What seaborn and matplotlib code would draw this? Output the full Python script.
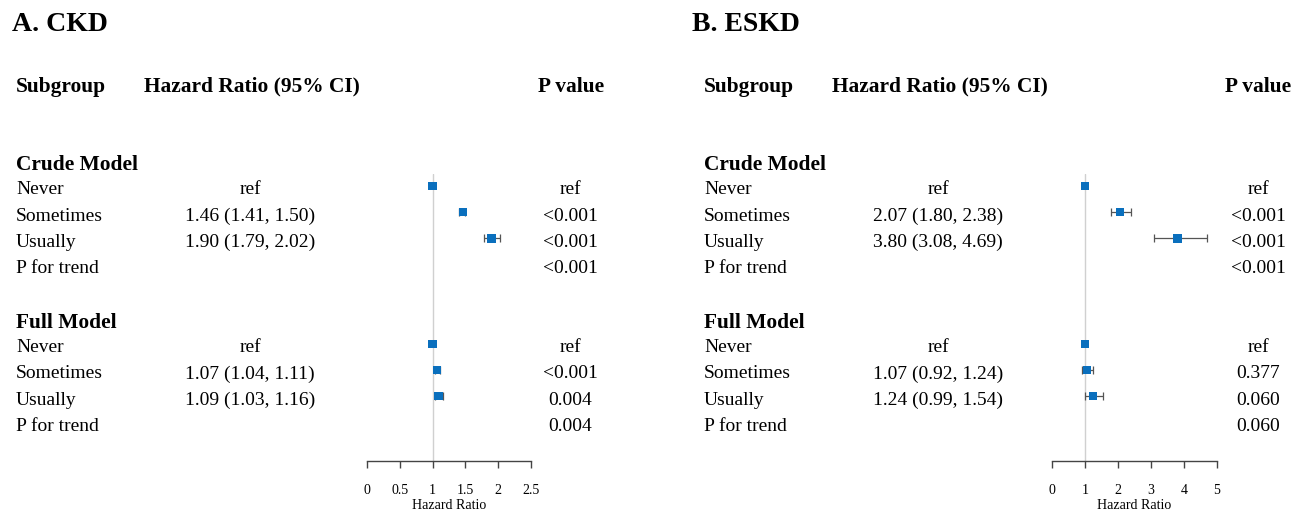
import matplotlib
matplotlib.use('Agg')
import matplotlib.pyplot as plt
import matplotlib.transforms as mtransforms
import pandas as pd
import seaborn as sns

# Subgroups
models = ['Crude Model', 'Full Model']
levels = ['Never', 'Sometimes', 'Usually']

# A. CKD
ckd_hr = [1.00, 1.46, 1.90, 1.00, 1.07, 1.09]
ckd_lo = [1.00, 1.41, 1.79, 1.00, 1.04, 1.03]
ckd_hi = [1.00, 1.50, 2.02, 1.00, 1.11, 1.16]
ckd_p = ['ref', '<0.001', '<0.001', 'ref', '<0.001', '0.004']
ckd_trend = ['<0.001', '0.004']
ckd_ticks = [0, 0.5, 1, 1.5, 2, 2.5]

# B. ESKD
eskd_hr = [1.00, 2.07, 3.80, 1.00, 1.07, 1.24]
eskd_lo = [1.00, 1.80, 3.08, 1.00, 0.92, 0.99]
eskd_hi = [1.00, 2.38, 4.69, 1.00, 1.24, 1.54]
eskd_p = ['ref', '<0.001', '<0.001', 'ref', '0.377', '0.060']
eskd_trend = ['<0.001', '0.060']
eskd_ticks = [0, 1, 2, 3, 4, 5]

sns.set_style('white')
plt.rcParams['font.family'] = ['Liberation Serif', 'DejaVu Serif']
plt.rcParams['text.color'] = 'black'

W, H = 1308, 510
fig = plt.figure(figsize=(W / 100, H / 100), dpi=100)

BLUE = '#0a6fbd'
ROW_TOP, ROW_BOTTOM = -0.45, 10.46   # row units at top of ref line / axis line
DY = 0.11                            # text nudge down (rows)


def build_df(hr, lo, hi, p):
    rows = []
    for m, model in enumerate(models):
        for i, lev in enumerate(levels):
            k = m * 3 + i
            rows.append(dict(model=model, level=lev, row=m * 6 + i,
                             hr=hr[k], lo=lo[k], hi=hi[k], p=p[k]))
    return pd.DataFrame(rows)


def draw_panel(title, hr, lo, hi, p, trend, ticks, pos):
    df = build_df(hr, lo, hi, p)
    ax_l, ax_r = pos['axis']
    ax = fig.add_axes([ax_l / W, (H - 462) / H, (ax_r - ax_l) / W, (462 - 175) / H])
    ax.set_xlim(ticks[0], ticks[-1])
    ax.set_ylim(ROW_BOTTOM, ROW_TOP)

    ax.axvline(1, color='#d0d0d0', lw=1.0, zorder=1)
    ci = df[df['level'] != 'Never']
    ax.errorbar(ci['hr'], ci['row'], xerr=[ci['hr'] - ci['lo'], ci['hi'] - ci['hr']],
                fmt='none', ecolor='#555555', elinewidth=0.9, capsize=3, capthick=0.9, zorder=2)
    sns.scatterplot(data=df, x='hr', y='row', marker='s', color=BLUE, s=36,
                    edgecolor='none', ax=ax, zorder=3, legend=False)

    for s in ['top', 'left', 'right']:
        ax.spines[s].set_visible(False)
    ax.spines['bottom'].set_color('#444444')
    ax.spines['bottom'].set_linewidth(1.0)
    ax.set_yticks([])
    ax.set_xticks(ticks)
    ax.set_xticklabels([f'{t:g}' for t in ticks])
    ax.tick_params(axis='x', direction='out', length=5, width=1, color='#444444',
                   pad=11, labelsize=10, labelcolor='black', bottom=True)
    ax.set_xlabel('Hazard Ratio', fontsize=10, labelpad=1, color='black')
    ax.set_ylabel('')

    tr = mtransforms.blended_transform_factory(fig.transFigure, ax.transData)

    def txt(xpx, row, s, **kw):
        fig.text(xpx / W, row + DY, s, transform=tr, va='center', color='black', **kw)

    txt(pos['title'], -6.27, title, fontsize=20, fontweight='bold')
    txt(pos['sub'], -3.92, 'Subgroup', fontsize=15.4, fontweight='bold')
    txt(pos['hrh'], -3.92, 'Hazard Ratio (95% CI)', fontsize=15.4, fontweight='bold')
    txt(pos['ph'], -3.92, 'P value', fontsize=15.4, fontweight='bold', ha='right')

    for m, model in enumerate(models):
        base = m * 6
        txt(pos['sub'], base - 0.95, model, fontsize=15.4, fontweight='bold')
        sub = df[df['model'] == model]
        for _, r in sub.iterrows():
            txt(pos['sub'], r['row'], r['level'], fontsize=14)
            s = 'ref' if r['level'] == 'Never' else f"{r['hr']:.2f} ({r['lo']:.2f}, {r['hi']:.2f})"
            txt(pos['hrc'], r['row'], s, fontsize=14, ha='center')
            txt(pos['pc'], r['row'], r['p'], fontsize=14, ha='center')
        txt(pos['sub'], base + 3, 'P for trend', fontsize=14)
        txt(pos['pc'], base + 3, trend[m], fontsize=14, ha='center')


draw_panel('A. CKD', ckd_hr, ckd_lo, ckd_hi, ckd_p, ckd_trend, ckd_ticks,
           dict(axis=(367, 531), title=12, sub=16, hrh=144, hrc=250, pc=570, ph=604))
draw_panel('B. ESKD', eskd_hr, eskd_lo, eskd_hi, eskd_p, eskd_trend, eskd_ticks,
           dict(axis=(1052, 1217), title=692, sub=704, hrh=832, hrc=938, pc=1258, ph=1291))

fig.savefig('out.png', dpi=100, facecolor='white')
